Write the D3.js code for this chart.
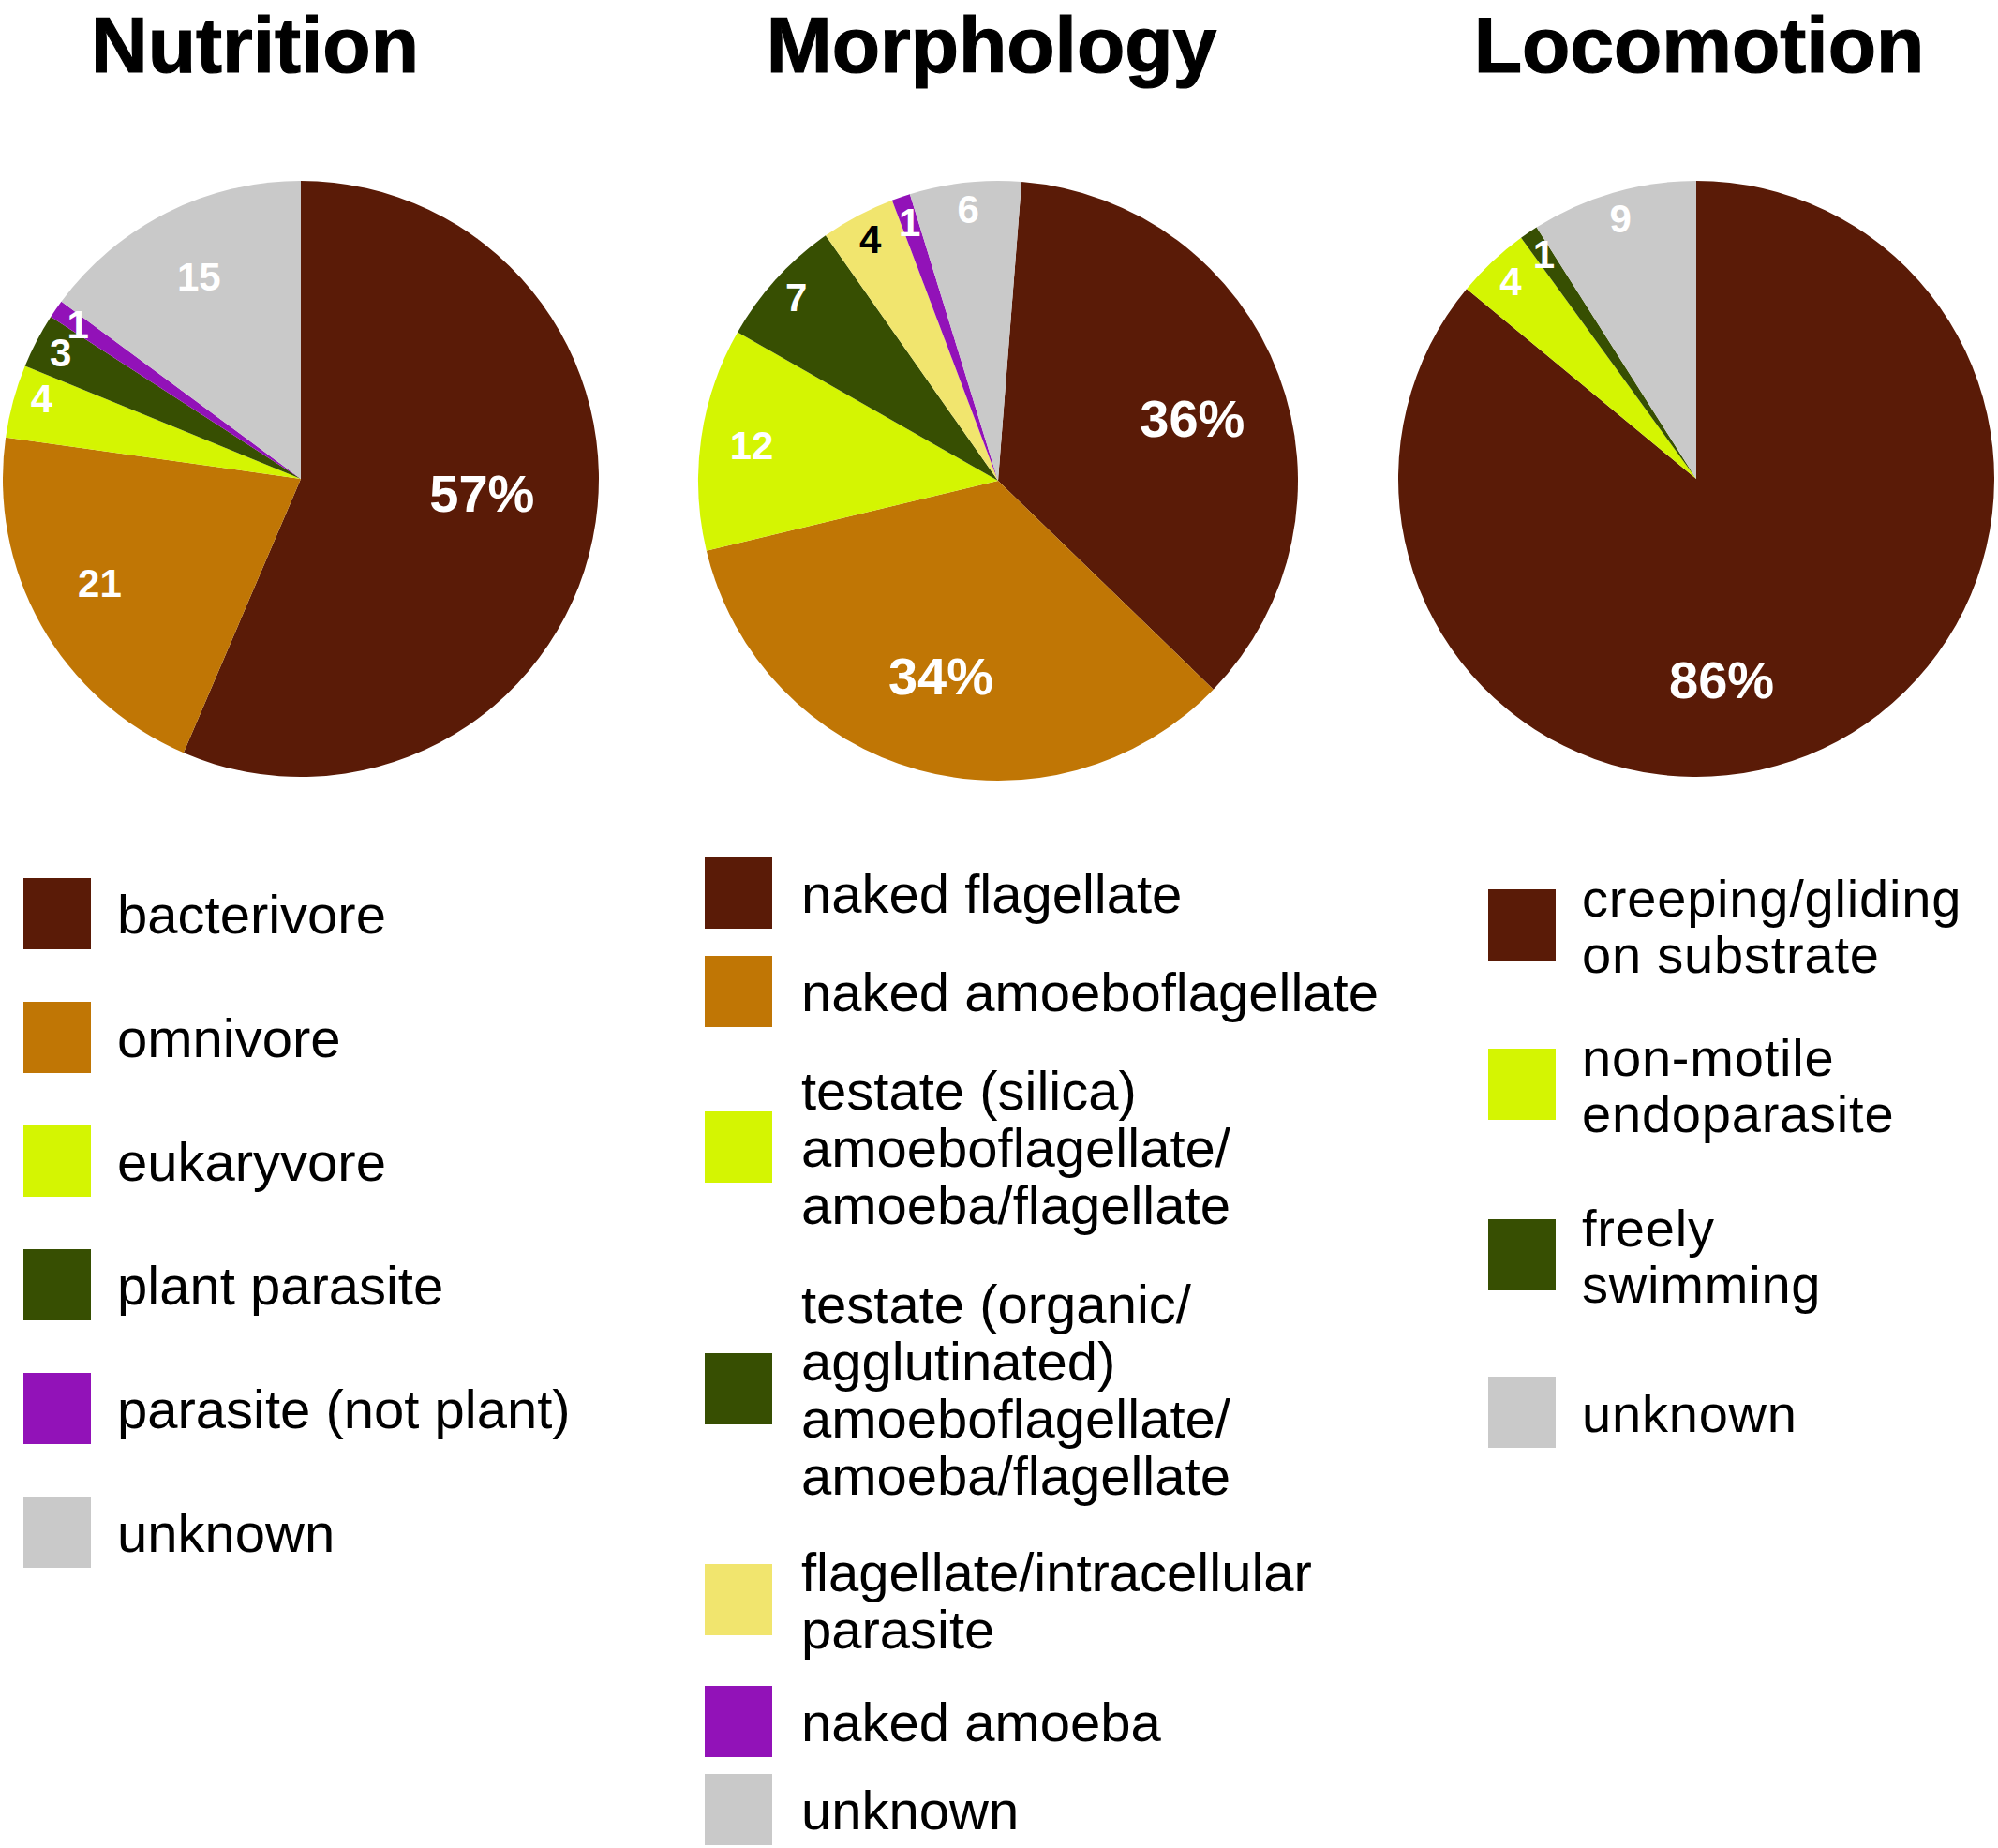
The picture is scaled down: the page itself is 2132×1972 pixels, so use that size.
<!DOCTYPE html>
<html>
<head>
<meta charset="utf-8">
<script src="https://cdn.jsdelivr.net/npm/d3@7/dist/d3.min.js"></script>
<style>
  html, body { margin: 0; padding: 0; background: #ffffff; }
  svg { display: block; }
</style>
</head>
<body>
<svg id="chart" width="2132" height="1972"></svg>
<script>
// ---------- DATA ----------
const chartTitles = ["Nutrition", "Morphology", "Locomotion"];

const nutritionCategories = ["bacterivore", "omnivore", "eukaryvore", "plant parasite", "parasite (not plant)", "unknown"];
const nutritionValues = [57, 21, 4, 3, 1, 15];
const nutritionLabels = ["57%", "21", "4", "3", "1", "15"];

const morphologyCategories = [
  "naked flagellate",
  "naked amoeboflagellate",
  "testate (silica)\namoeboflagellate/\namoeba/flagellate",
  "testate (organic/\nagglutinated)\namoeboflagellate/\namoeba/flagellate",
  "flagellate/intracellular\nparasite",
  "naked amoeba",
  "unknown"
];
const morphologyValues = [36, 34, 12, 7, 4, 1, 6];
const morphologyLabels = ["36%", "34%", "12", "7", "4", "1", "6"];

const locomotionCategories = ["creeping/gliding\non substrate", "non-motile\nendoparasite", "freely\nswimming", "unknown"];
const locomotionValues = [86, 4, 1, 9];
const locomotionLabels = ["86%", "4", "1", "9"];

// ---------- STYLE ----------
const C = {
  brown: "#5a1b07", orange: "#c07605", lime: "#d4f502", dkgreen: "#374f02",
  purple: "#9212b8", grey: "#c9c9c9", paleyellow: "#f1e56e"
};
const nutritionColors = [C.brown, C.orange, C.lime, C.dkgreen, C.purple, C.grey];
const morphologyColors = [C.brown, C.orange, C.lime, C.dkgreen, C.paleyellow, C.purple, C.grey];
const locomotionColors = [C.brown, C.lime, C.dkgreen, C.grey];

const FONT = "'Liberation Sans', Arial, Helvetica, sans-serif";

const charts = [
  { title: chartTitles[0], cats: nutritionCategories, vals: nutritionValues, labels: nutritionLabels, colors: nutritionColors,
    cx: 321, cy: 511, r: 318, titleX: 272, startDeg: 0, nudge: [-7, 2, 2, 0, 0, 0], rBig: 0.61, rMid: 0.76,
    legend: { swX: 25, txX: 125, y0: 975, gaps: [71, 71, 71, 71, 71], line: 61, font: 58, spacing: 0 } },
  { title: chartTitles[1], cats: morphologyCategories, vals: morphologyValues, labels: morphologyLabels, colors: morphologyColors,
    cx: 1065, cy: 513, r: 320, titleX: 1058, startDeg: 4.5, nudge: [3, 1, 0, 0, 0, 0, 0], rBig: 0.68, rMid: 0.83,
    legend: { swX: 752, txX: 855, y0: 953, gaps: [44, 44, 44.5, 42, 38.5, 33], line: 61, font: 58, spacing: 0 } },
  { title: chartTitles[2], cats: locomotionCategories, vals: locomotionValues, labels: locomotionLabels, colors: locomotionColors,
    cx: 1810, cy: 511, r: 318, titleX: 1813, startDeg: 0, nudge: [18, 0, 0, 0], rBig: 0.68, rMid: 0.77,
    legend: { swX: 1588, txX: 1688, y0: 987, gaps: [50, 62, 78], line: 60, font: 56, spacing: 0.8 } }
];

const svg = d3.select("#chart");
svg.append("rect").attr("width", 2132).attr("height", 1972).attr("fill", "#fff");

charts.forEach(ch => {
  // title
  svg.append("text")
    .attr("x", ch.titleX).attr("y", 77)
    .attr("text-anchor", "middle")
    .attr("font-family", FONT).attr("font-weight", "bold")
    .attr("font-size", 84)
    .attr("fill", "#000").attr("stroke", "#000").attr("stroke-width", 1.2)
    .text(ch.title);

  const rad = d => d * Math.PI / 180;
  const pie = d3.pie().sort(null).value(d => d.v)
    .startAngle(rad(ch.startDeg)).endAngle(rad(ch.startDeg) + 2 * Math.PI);
  const data = ch.vals.map((v, i) => ({ v, i }));
  const arcs = pie(data);
  const arc = d3.arc().innerRadius(0).outerRadius(ch.r);

  const g = svg.append("g").attr("transform", `translate(${ch.cx},${ch.cy})`);
  g.selectAll("path").data(arcs).join("path")
    .attr("d", arc)
    .attr("fill", d => ch.colors[d.data.i]);

  // labels
  g.selectAll("text").data(arcs).join("text")
    .each(function (d) {
      const v = d.data.v;
      const f = v >= 30 ? ch.rBig : (v >= 10 ? ch.rMid : 0.91);
      const a = (d.startAngle + d.endAngle) / 2 + rad(ch.nudge[d.data.i]);
      const rr = ch.r * f;
      d3.select(this)
        .attr("x", rr * Math.sin(a))
        .attr("y", -rr * Math.cos(a));
    })
    .attr("text-anchor", "middle")
    .attr("dominant-baseline", "central")
    .attr("font-family", FONT).attr("font-weight", "bold")
    .attr("font-size", d => d.data.v >= 30 ? 56 : 42)
    .attr("fill", d => ch.colors[d.data.i] === C.paleyellow ? "#000" : "#fff")
    .text(d => ch.labels[d.data.i]);

  // legend
  const L = ch.legend;
  const lines = ch.cats.map(c => c.split("\n"));
  let centers = [];
  let y = L.y0;
  lines.forEach((ls, i) => {
    if (i > 0) {
      y += (lines[i - 1].length * L.line) / 2 + L.gaps[i - 1] + (ls.length * L.line) / 2;
    }
    centers.push(y);
  });
  const lg = svg.append("g");
  lines.forEach((ls, i) => {
    const cy = centers[i];
    lg.append("rect")
      .attr("x", L.swX).attr("y", cy - 38)
      .attr("width", 72).attr("height", 76)
      .attr("fill", ch.colors[i]);
    const t = lg.append("text")
      .attr("font-family", FONT).attr("font-size", L.font)
      .attr("letter-spacing", L.spacing)
      .attr("fill", "#000");
    ls.forEach((s, k) => {
      t.append("tspan")
        .attr("x", L.txX)
        .attr("y", cy + (k - (ls.length - 1) / 2) * L.line + 21)
        .text(s);
    });
  });
});
</script>
</body>
</html>
